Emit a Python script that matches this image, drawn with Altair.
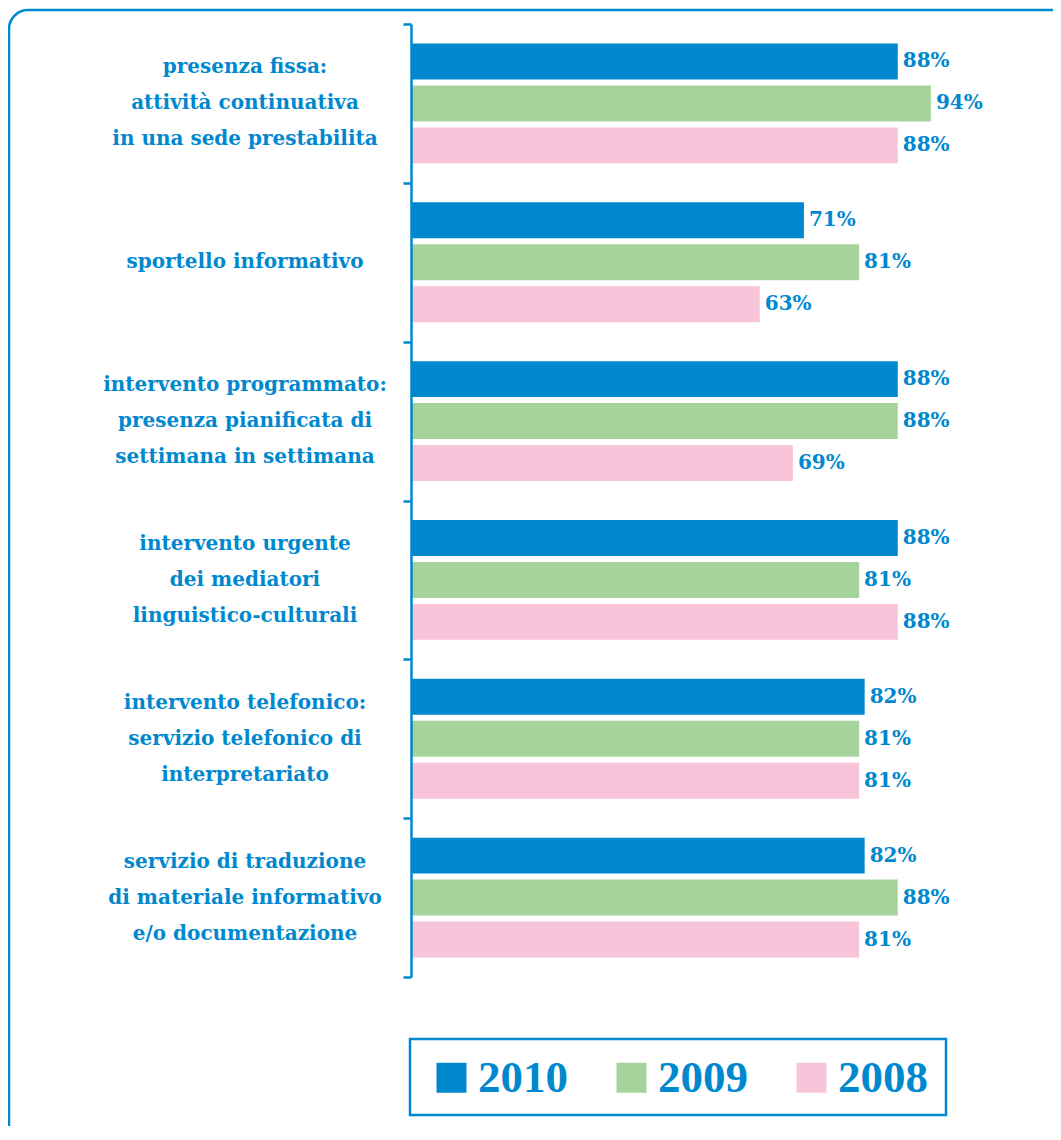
import altair as alt
import pandas as pd

categories = [
    "presenza fissa:\nattività continuativa\nin una sede prestabilita",
    "sportello informativo",
    "intervento programmato:\npresenza pianificata di\nsettimana in settimana",
    "intervento urgente\ndei mediatori\nlinguistico-culturali",
    "intervento telefonico:\nservizio telefonico di\ninterpretariato",
    "servizio di traduzione\ndi materiale informativo\ne/o documentazione",
]
years = ["2010", "2009", "2008"]
v2010 = [88, 71, 88, 88, 82, 82]
v2009 = [94, 81, 88, 81, 81, 88]
v2008 = [88, 63, 69, 88, 81, 81]
colors = ["#0088CF", "#A5D39B", "#F7C4D9"]

BLUE = "#0088CF"
TEXT_FONT = "DejaVu Serif"
LINE_H = 36

rows = []
for yr, vals in zip(years, [v2010, v2009, v2008]):
    for c, v in zip(categories, vals):
        rows.append({"cat": c, "year": yr, "value": v, "label": f"{v}%"})
df = pd.DataFrame(rows)

cat_df = pd.DataFrame({"cat": categories,
                       "nlines": [c.count("\n") + 1 for c in categories]})
one_df = pd.DataFrame({"a": [0]})

y_enc = alt.Y("cat:N", sort=categories,
              scale=alt.Scale(domain=categories, paddingInner=0, paddingOuter=0),
              axis=alt.Axis(labels=False, title=None, domainColor=BLUE, domainWidth=2.5,
                            tickColor=BLUE, tickWidth=2.5, tickSize=8, tickBand="extent",
                            grid=False, offset=1, zindex=1))
yoff_enc = alt.YOffset("year:N", sort=years,
                       scale=alt.Scale(domain=years, paddingInner=0.143, paddingOuter=0.464))
x_enc = alt.X("value:Q", scale=alt.Scale(domain=[0, 100]), axis=None)

frame = alt.Chart(one_df).mark_rect(
    fill="white", stroke=BLUE, strokeWidth=2.5, cornerRadius=19
).encode(
    x=alt.value(-403), x2=alt.value(720), y=alt.value(-14), y2=alt.value(1200)
)

legend_box = alt.Chart(one_df).mark_rect(
    fill="transparent", stroke=BLUE, strokeWidth=2.5
).encode(
    x=alt.value(-2), x2=alt.value(534), y=alt.value(1015), y2=alt.value(1091)
)

bars = alt.Chart(df).mark_bar().encode(
    x=x_enc,
    y=y_enc,
    yOffset=yoff_enc,
    color=alt.Color("year:N", sort=years,
                    scale=alt.Scale(domain=years, range=colors),
                    legend=alt.Legend(title=None, orient="none", legendX=17, legendY=1031,
                                      direction="horizontal", symbolType="square",
                                      symbolSize=900, symbolStrokeWidth=0,
                                      labelFont="Liberation Serif", labelFontWeight="bold",
                                      labelFontSize=45, labelColor=BLUE, labelOffset=4,
                                      columnPadding=41, padding=0)),
)

values = alt.Chart(df).mark_text(
    align="left", baseline="middle", dx=5, font=TEXT_FONT, fontWeight="bold",
    fontSize=20, color=BLUE
).encode(
    x=x_enc, y=y_enc, yOffset=yoff_enc, text="label:N"
)


def cat_layer(n):
    return alt.Chart(cat_df).transform_filter(
        alt.datum.nlines == n
    ).mark_text(
        align="center", baseline="middle", lineBreak="\n", lineHeight=LINE_H,
        dy=-(n - 1) * LINE_H / 2,
        font=TEXT_FONT, fontWeight="bold", fontSize=20, color=BLUE
    ).encode(
        x=alt.value(-167), y=alt.Y("cat:N", sort=categories), text="cat:N"
    )


chart = alt.layer(frame, legend_box, bars, values, cat_layer(1), cat_layer(3)).properties(
    width=552, height=953,
    autosize=alt.AutoSizeParams(type="none"),
    padding={"left": 404, "top": 16, "right": 89, "bottom": 149},
).configure_view(strokeWidth=0)

chart.save("out.html", embed_options={"renderer": "svg", "actions": False})
